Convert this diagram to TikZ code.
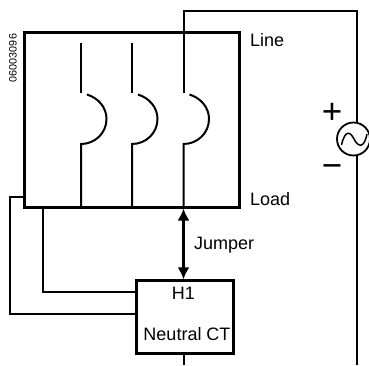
\documentclass[tikz,border=0pt]{standalone}
\usepackage{fontspec}
\setmainfont{Liberation Sans}
\usetikzlibrary{arrows.meta}
\tikzstyle{box}=[rectangle,draw=black,line width=3pt,inner sep=0pt,fill=none,anchor=center]
\tikzstyle{annot}=[inner sep=0pt,font=\fontsize{18}{20}\selectfont]
\tikzstyle{wire}=[line width=2pt]
\tikzstyle{thinwire}=[line width=2pt]
\newcommand{\drawpole}[2]
{
  \coordinate (top#1) at (#2,43);
  \coordinate (open#1) at (#2,93);
  \coordinate (arcstart#1) at (#2+6,94.5);
  \coordinate (arcmid#1) at (#2+25.5,119);
  \coordinate (arcend#1) at (#2,144);
  \coordinate (bottom#1) at (#2,207);
  \draw[wire] (top#1) -- (open#1);
  \draw[wire] (arcstart#1) .. controls (#2+17,98) and (#2+25.5,107) .. (arcmid#1) .. controls (#2+25.5,133) and (#2+14,144) .. (arcend#1) -- (bottom#1);
}

\begin{document}
\begin{tikzpicture}[x=1pt,y=-1pt]
	\useasboundingbox (0,0) rectangle (369,365);

	\node[box, minimum width=215.5pt, minimum height=174.7pt](breaker) at (132.2,119.65){};
	\node[box, minimum width=97pt, minimum height=72.2pt](ct) at (185,316.9){};
	\node[circle, draw=black, line width=1.8pt, minimum size=33pt, inner sep=0pt](source) at (353.5,139){};

	\drawpole{a}{81}
	\drawpole{b}{132}
	\drawpole{c}{183.5}

	\coordinate (corner) at (357,11);
	\coordinate (feed) at (183.5,11);
	\coordinate (exit) at (183.5,365);
	\coordinate (bus) at (357,365);
	\coordinate (feedend) at (183.5,93);
	\coordinate (sourcein) at (357,122);
	\coordinate (sourceout) at (357,156);
	\draw[wire] (feedend) -- (feed) -- (corner) -- (sourcein);
	\draw[wire] (sourceout) -- (bus);
	\draw[wire] (ct.south -| exit) -- (exit);

	% sine inside the source
	\draw[line width=1.5pt] (341.5,145) .. controls (345,130) and (350,131) .. (354,139) .. controls (358,147) and (364,149) .. (367,134);

	\draw[{Latex[length=12pt,width=12pt]}-{Latex[length=12pt,width=12pt]}, line width=2.2pt] (183.5,208.5) -- (183.5,279.3);

	% connections to the CT
	\coordinate (tapa) at (43,207);
	\coordinate (tapb) at (24.5,197);
	\draw[thinwire] (tapa) -- (43,291.7) -- (136.5,291.7);
	\draw[thinwire] (tapb) -- (9.5,197) -- (9.5,314.3) -- (136.5,314.3);

	\node[annot, anchor=west](line) at (250,40) {Line};
	\node[annot, anchor=west](load) at (250,199) {Load};
	\node[annot, anchor=west](jumper) at (194,245) {Jumper};
	\node[annot](h1) at (183.5,293) {H1};
	\node[annot](ctname) at (187,334.5) {Neutral CT};
	\node[inner sep=0pt, rotate=90, font=\fontsize{10.8}{12}\selectfont](code) at (13,58) {06003096};
	\node[inner sep=0pt, font=\fontsize{35}{35}\selectfont](plus) at (332,113) {+};
	\node[inner sep=0pt, font=\fontsize{35}{35}\selectfont](minus) at (332,171) {\char"2212};
\end{tikzpicture}
\end{document}
